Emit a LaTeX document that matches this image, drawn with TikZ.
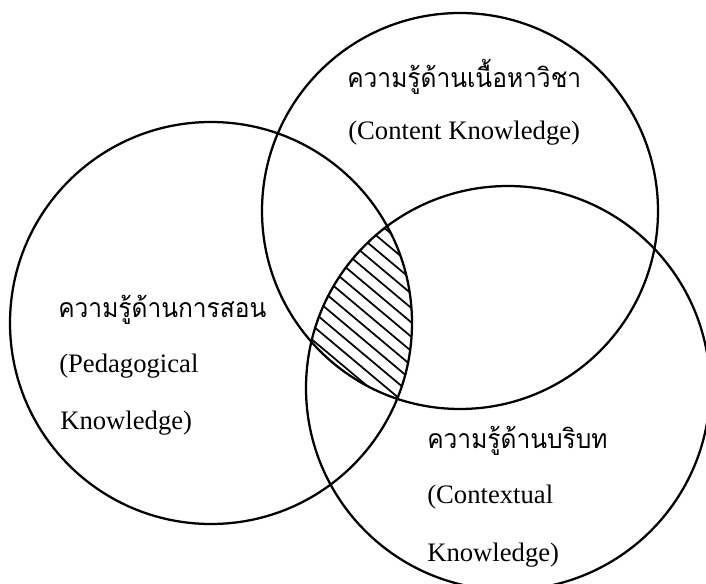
\documentclass[tikz,border=0pt]{standalone}
\usepackage{fontspec}
\setmainfont{Liberation Serif}
\newfontfamily\thaifont[Script=Thai,FakeStretch=0.92]{Loma}
\usetikzlibrary{calc}

\begin{document}
\begin{tikzpicture}[x=0.75pt,y=-0.75pt,
    ring/.style={line width=1.7pt},
    hatch/.style={line width=1.3pt},
    lbl/.style={anchor=base west, inner sep=0pt, font=\fontsize{20}{24}\selectfont},
    thai/.style={lbl, font=\thaifont\fontsize{20}{24}\selectfont}]
    \useasboundingbox (0,0) rectangle (706,584);
    \clip (0,0) rectangle (706,584);
    \coordinate (T) at (460,211);
    \coordinate (L) at (211,323);
    \coordinate (R) at (508,388);
    \coordinate (H) at (375,335);
    % shared part of the three circles
    \begin{scope}
      \clip (T) circle (198);
      \clip (L) circle (201);
      \clip (R) circle (202);
      \foreach \k in {-12,...,12} {
        \draw[hatch] ($(H)+(130:\k*11)+(40:-160)$) -- ($(H)+(130:\k*11)+(40:160)$);
      }
    \end{scope}
    \draw[ring] (T) circle (198);
    \draw[ring] (L) circle (201);
    \draw[ring] (R) circle (202);
    \node[thai] (contentTh) at (347,88) {ความรู้ด้านเนื้อหาวิชา};
    \node[lbl] (contentEn) at (348,140) {(Content Knowledge)};
    \node[thai] (pedaTh) at (58,317) {ความรู้ด้านการสอน};
    \node[lbl] (pedaEn) at (59,372) {(Pedagogical};
    \node[lbl] (pedaKn) at (60,429) {Knowledge)};
    \node[thai] (contextTh) at (427,448) {ความรู้ด้านบริบท};
    \node[lbl] (contextEn) at (427,503) {(Contextual};
    \node[lbl] (contextKn) at (427,561) {Knowledge)};
\end{tikzpicture}
\end{document}
